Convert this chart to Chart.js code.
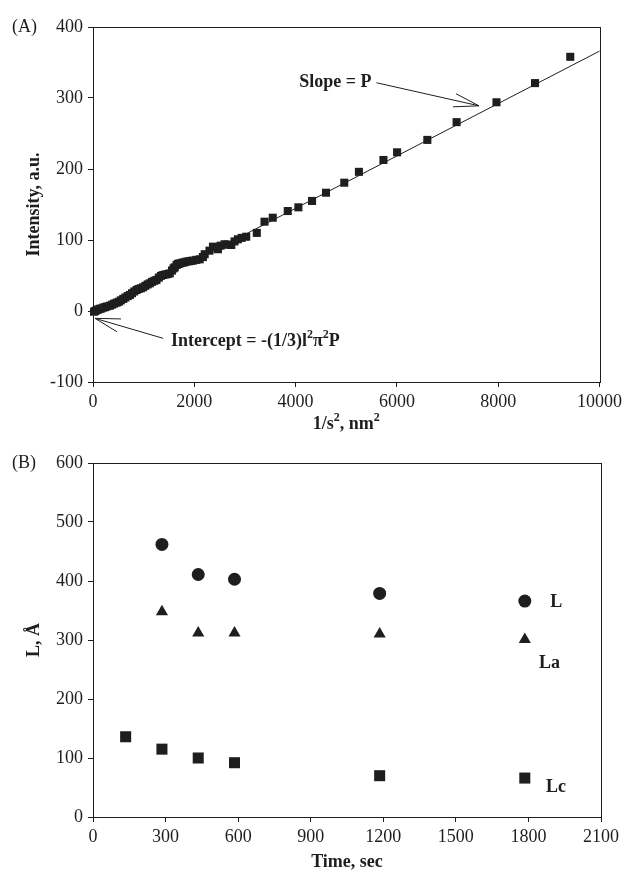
<!DOCTYPE html>
<html>
<head>
<meta charset="utf-8">
<script src="https://cdn.jsdelivr.net/npm/chart.js@4.4.0/dist/chart.umd.min.js"></script>
<style>
  html, body { margin: 0; padding: 0; background: #ffffff; }
  #wrap { position: relative; width: 626px; height: 873px; }
  canvas { position: absolute; left: 0; }
  #cA { top: 0; }
  #cB { top: 440px; }
</style>
</head>
<body>
<div id="wrap">
  <canvas id="cA" width="626" height="440"></canvas>
  <canvas id="cB" width="626" height="433"></canvas>
</div>
<script>
// ---- Panel A: intensity vs 1/s^2 ----
const invS2 = [20, 45, 72, 100, 130, 160, 203, 240, 280, 335, 380, 420, 466, 510, 550, 597,
  640, 685, 728, 770, 815, 860, 900, 945, 990, 1035, 1080, 1122, 1165, 1210, 1253, 1300,
  1340, 1385, 1430, 1475, 1516, 1560, 1590, 1614, 1650, 1680, 1713, 1760, 1800, 1844, 1890,
  1930, 1975, 2040, 2106, 2170, 2205, 2300, 2368, 2467, 2520, 2598, 2665, 2730, 2795, 2861,
  2935, 3025, 3234, 3386, 3549, 3845, 4055, 4325, 4600, 4961, 5250, 5734, 6004, 6601, 7179,
  7966, 8727, 9423];
const intensity = [-1, 0, 1.4, 2, 3, 3.5, 4.7, 5.5, 6.5, 7.5, 9, 10.5, 11.7, 13, 15, 17,
  19, 21, 22.5, 25, 27.5, 29.6, 31, 32, 33.4, 35.5, 37.5, 39, 41, 42.5, 43.7, 47,
  49.5, 50.7, 51.5, 52, 53, 57, 60, 61.5, 65, 66.5, 67, 68, 68.5, 69.5, 70,
  70.5, 71, 72, 72.8, 76, 80, 85, 90.6, 87, 92, 94, 93.5, 93, 98, 101,
  103, 104.6, 110, 125.8, 131.4, 140.8, 146, 155, 166.6, 180.7, 196, 212.7, 223.5, 241, 266,
  294, 321, 358];
const fitX = [0, 10000];
const fitY = [-3, 366];
const xRangeA = [0, 10000];
const yRangeA = [-100, 400];

// ---- Panel B: crystallite sizes vs time ----
const timeL = [285, 435, 585, 1185, 1785];
const sizeL = [462, 411, 403, 379, 366];
const timeLa = [285, 435, 585, 1185, 1785];
const sizeLa = [348, 312, 312, 310, 301];
const timeLc = [135, 285, 435, 585, 1185, 1785];
const sizeLc = [136, 115, 100, 92, 70, 66];
const xRangeB = [0, 2100];
const yRangeB = [0, 600];

const INK = '#1e1e1e';
const SERIF = '"Liberation Serif", "Times New Roman", serif';
const BOLD = 'bold 18px ' + SERIF;
const SUP = 'bold 12px ' + SERIF;

function pts(xs, ys) { return xs.map((v, i) => ({ x: v, y: ys[i] })); }

function drawArrow(ctx, x0, y0, x1, y1) {
  ctx.beginPath();
  ctx.moveTo(x0, y0);
  ctx.lineTo(x1, y1);
  const a = Math.atan2(y0 - y1, x0 - x1);
  const spread = 15 * Math.PI / 180, len = 26;
  ctx.moveTo(x1 + len * Math.cos(a + spread), y1 + len * Math.sin(a + spread));
  ctx.lineTo(x1, y1);
  ctx.lineTo(x1 + len * Math.cos(a - spread), y1 + len * Math.sin(a - spread));
  ctx.stroke();
}

// text made of plain and superscript pieces; align 'left' or 'center'
function richText(ctx, parts, x, y, align) {
  let w = 0;
  parts.forEach(p => { ctx.font = p.sup ? SUP : BOLD; w += ctx.measureText(p.t).width; });
  let cx = align === 'center' ? x - w / 2 : x;
  ctx.textAlign = 'left';
  ctx.textBaseline = 'middle';
  parts.forEach(p => {
    ctx.font = p.sup ? SUP : BOLD;
    ctx.fillText(p.t, cx, p.sup ? y - 6 : y);
    cx += ctx.measureText(p.t).width;
  });
}

// frame around the plotting area and the panel letter
function framePlugin(letter) {
  return {
    id: 'frame' + letter,
    afterDraw(chart) {
      const { ctx, chartArea: ca } = chart;
      ctx.save();
      ctx.strokeStyle = INK;
      ctx.lineWidth = 1;
      ctx.strokeRect(Math.round(ca.left) + 0.5, Math.round(ca.top) + 0.5,
        Math.round(ca.right - ca.left), Math.round(ca.bottom - ca.top));
      ctx.fillStyle = INK;
      ctx.font = '18px ' + SERIF;
      ctx.textBaseline = 'middle';
      ctx.textAlign = 'left';
      ctx.fillText('(' + letter + ')', 12, ca.top);
      ctx.restore();
    }
  };
}

// annotation anchors in data units
const slopeTail = [5597, 321.5], slopeTip = [7620, 289];
const interTail = [1384, -38.5], interTip = [39, -10.3];

const annotA = {
  id: 'annotA',
  afterDraw(chart) {
    const { ctx, chartArea: ca, scales: { x, y } } = chart;
    ctx.save();
    ctx.strokeStyle = INK; ctx.fillStyle = INK; ctx.lineWidth = 1;
    const sx0 = x.getPixelForValue(slopeTail[0]), sy0 = y.getPixelForValue(slopeTail[1]);
    drawArrow(ctx, sx0, sy0, x.getPixelForValue(slopeTip[0]), y.getPixelForValue(slopeTip[1]));
    const ix0 = x.getPixelForValue(interTail[0]), iy0 = y.getPixelForValue(interTail[1]);
    drawArrow(ctx, ix0, iy0, x.getPixelForValue(interTip[0]), y.getPixelForValue(interTip[1]));
    ctx.font = BOLD;
    ctx.textBaseline = 'middle';
    ctx.textAlign = 'right';
    ctx.fillText('Slope = P', sx0 - 5, sy0);
    richText(ctx, [{ t: 'Intercept = -(1/3)l' }, { t: '2', sup: true }, { t: '\u03C0' },
      { t: '2', sup: true }, { t: 'P' }], ix0 + 8, iy0 + 3, 'left');
    // x-axis title with superscripts
    richText(ctx, [{ t: '1/s' }, { t: '2', sup: true }, { t: ', nm' }, { t: '2', sup: true }],
      (ca.left + ca.right) / 2, ca.bottom + 42, 'center');
    ctx.restore();
  }
};

const labelsB = [
  { text: 'L', x: 1890, y: 363 },
  { text: 'La', x: 1844, y: 261 },
  { text: 'Lc', x: 1873, y: 51 }
];
const annotB = {
  id: 'annotB',
  afterDraw(chart) {
    const { ctx, scales: { x, y } } = chart;
    ctx.save();
    ctx.fillStyle = INK;
    ctx.font = BOLD;
    ctx.textBaseline = 'middle';
    ctx.textAlign = 'left';
    labelsB.forEach(l => ctx.fillText(l.text, x.getPixelForValue(l.x), y.getPixelForValue(l.y)));
    ctx.restore();
  }
};

function axisCommon(min, max, step, titleText, titlePad, fitSize, horizontal, tickPad) {
  return {
    type: 'linear',
    min: min, max: max,
    ticks: {
      stepSize: step, color: INK, font: { family: SERIF, size: 18 }, padding: tickPad,
      callback: v => String(v)
    },
    grid: { display: true, drawOnChartArea: false, drawTicks: true, tickLength: 5, color: INK },
    border: { display: true, color: INK, width: 1 },
    title: {
      display: titleText !== null, text: titleText || '', color: INK,
      font: { family: SERIF, size: 18, weight: 'bold' },
      padding: horizontal ? { top: 0, bottom: titlePad } : { top: titlePad, bottom: 0 }
    },
    afterFit(scale) {
      if (horizontal) scale.height = fitSize; else scale.width = fitSize;
    }
  };
}

Chart.defaults.font.family = SERIF;

new Chart(document.getElementById('cA'), {
  type: 'scatter',
  data: {
    datasets: [
      {
        type: 'line',
        data: pts(fitX, fitY),
        borderColor: INK, borderWidth: 1, pointRadius: 0, fill: false, clip: false, order: 2
      },
      {
        data: pts(invS2, intensity),
        pointStyle: 'rect', pointRadius: 5.7, pointHoverRadius: 5.7,
        backgroundColor: INK, borderColor: INK, borderWidth: 0, clip: false, order: 1
      }
    ]
  },
  options: {
    responsive: false, animation: false, devicePixelRatio: 1,
    layout: { padding: { top: 27, right: 25, bottom: 8, left: 0 } },
    plugins: { legend: { display: false }, tooltip: { enabled: false } },
    scales: {
      x: axisCommon(xRangeA[0], xRangeA[1], 2000, null, 0, 50, true, 4),
      y: axisCommon(yRangeA[0], yRangeA[1], 100, 'Intensity, a.u.', 24, 93, false, 5)
    }
  },
  plugins: [framePlugin('A'), annotA]
});

new Chart(document.getElementById('cB'), {
  type: 'scatter',
  data: {
    datasets: [
      {
        data: pts(timeL, sizeL), pointStyle: 'circle', pointRadius: 6.5,
        backgroundColor: INK, borderColor: INK, borderWidth: 0, clip: false
      },
      {
        data: pts(timeLa, sizeLa), pointStyle: 'triangle', pointRadius: 7,
        backgroundColor: INK, borderColor: INK, borderWidth: 0, clip: false
      },
      {
        data: pts(timeLc, sizeLc), pointStyle: 'rect', pointRadius: 7.8,
        backgroundColor: INK, borderColor: INK, borderWidth: 0, clip: false
      }
    ]
  },
  options: {
    responsive: false, animation: false, devicePixelRatio: 1,
    layout: { padding: { top: 23, right: 25, bottom: 0, left: 0 } },
    plugins: { legend: { display: false }, tooltip: { enabled: false } },
    scales: {
      x: axisCommon(xRangeB[0], xRangeB[1], 300, 'Time, sec', 0, 56, true, 4),
      y: axisCommon(yRangeB[0], yRangeB[1], 100, 'L, \u00C5', 24, 93, false, 5)
    }
  },
  plugins: [framePlugin('B'), annotB]
});
</script>
</body>
</html>
